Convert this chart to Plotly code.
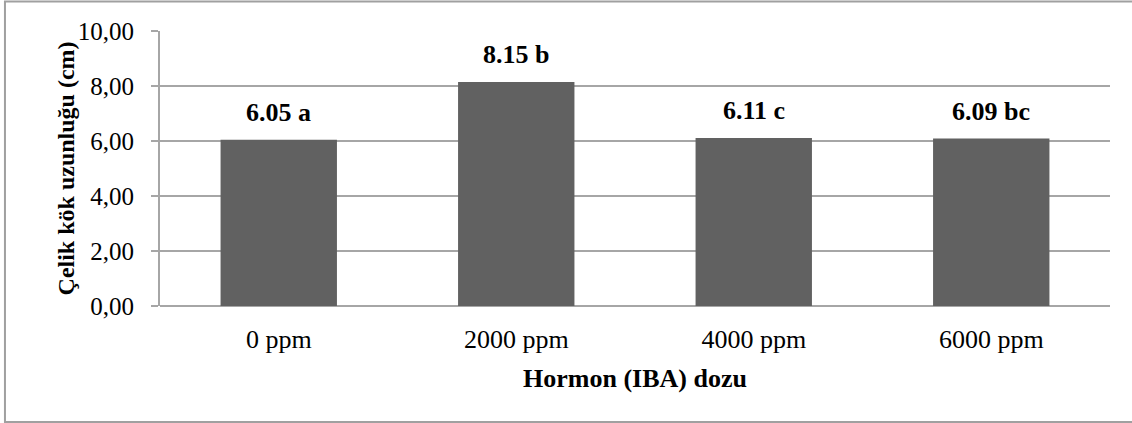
import plotly.graph_objects as go

categories = ["0 ppm", "2000 ppm", "4000 ppm", "6000 ppm"]
values = [6.05, 8.15, 6.11, 6.09]
letters = ["a", "b", "c", "bc"]
y_ticks = [0, 2, 4, 6, 8, 10]
y_title = "Çelik kök uzunluğu (cm)"
x_title = "Hormon (IBA) dozu"

FONT = "Liberation Serif, Times New Roman, serif"
GRID = "#a6a6a6"

fig = go.Figure()
fig.add_trace(go.Bar(
    x=categories, y=values,
    marker=dict(color="#616161", line=dict(width=0)),
    hoverinfo="skip",
))

for c, v, l in zip(categories, values, letters):
    fig.add_annotation(
        x=c, y=v, xref="x", yref="y",
        text=f"<b>{v:.2f} {l}</b>",
        showarrow=False, yanchor="middle", yshift=27,
        font=dict(family=FONT, size=26, color="black"),
    )

fig.add_annotation(
    x=-0.099, y=0.5, xref="paper", yref="paper",
    text=f"<b>{y_title}</b>", textangle=-90, showarrow=False,
    xanchor="center", yanchor="middle",
    font=dict(family=FONT, size=24, color="black"),
)
fig.add_annotation(
    x=0.5, y=-0.262, xref="paper", yref="paper",
    text=f"<b>{x_title}</b>", showarrow=False,
    xanchor="center", yanchor="middle",
    font=dict(family=FONT, size=26, color="black"),
)

# outer chart border
fig.add_shape(
    type="rect", xref="paper", yref="paper",
    x0=-0.1632, x1=1.06, y0=-0.4218, y1=1.107,
    line=dict(color="#a0a0a0", width=2), layer="below",
)

fig.update_layout(
    width=1132, height=423,
    margin=dict(l=160, r=22, t=31, b=117),
    paper_bgcolor="white", plot_bgcolor="white",
    bargap=0.51, showlegend=False,
    separators=",.",
    font=dict(family=FONT, color="black"),
)
fig.update_xaxes(
    showgrid=False, showline=False, ticks="",
    tickfont=dict(family=FONT, size=26, color="black"),
    ticklabelstandoff=15,
)
fig.update_yaxes(
    range=[0, 10], tickvals=y_ticks, tickformat=".2f",
    showgrid=True, gridcolor=GRID, gridwidth=2,
    zeroline=True, zerolinecolor=GRID, zerolinewidth=2,
    showline=True, linecolor=GRID, linewidth=2,
    ticks="outside", ticklen=7, tickcolor=GRID, tickwidth=2,
    tickfont=dict(family=FONT, size=25, color="black"),
    ticklabelstandoff=12,
)

fig.write_html("out.html")
